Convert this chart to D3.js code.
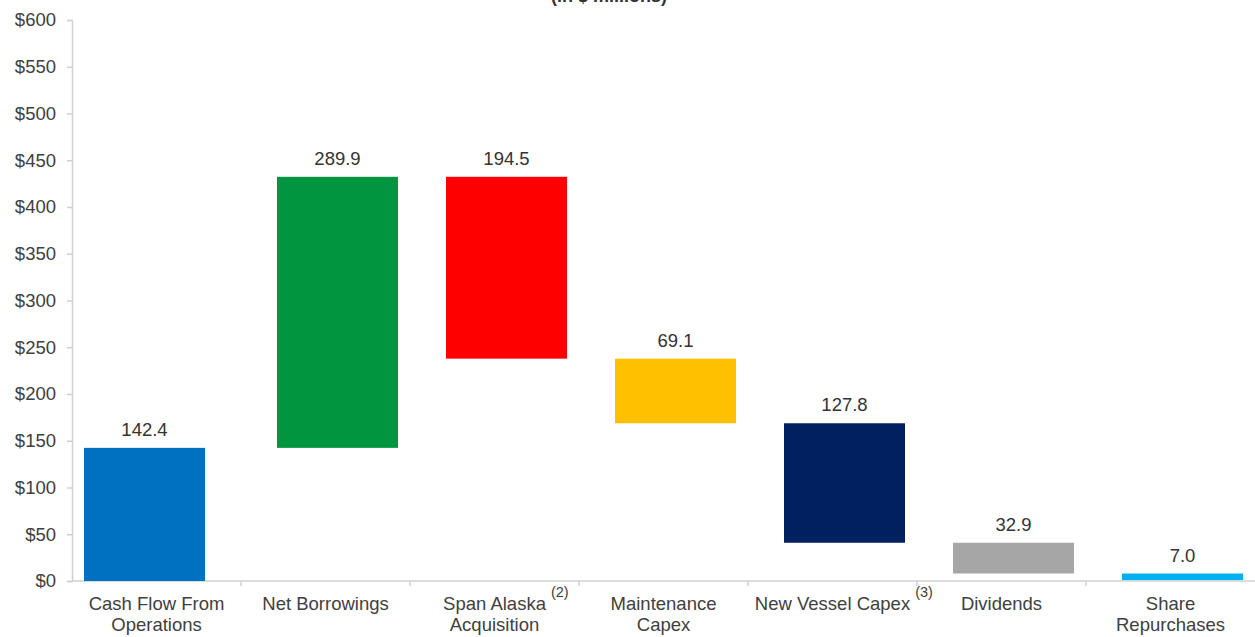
<!DOCTYPE html>
<meta charset="utf-8">
<style>
  body { margin: 0; background: #fff; }
  text { font-family: "Liberation Sans", Arial, sans-serif; }
</style>
<body>
<div id="chart"></div>
<script src="https://d3js.org/d3.v7.min.js"></script>
<script>

// categories (second line after "|"), superscript footnotes
var categories = ["Cash Flow From|Operations", "Net Borrowings", "Span Alaska|Acquisition",
                  "Maintenance|Capex", "New Vessel Capex", "Dividends", "Share|Repurchases"];
var footnotes = ["", "", "(2)", "", "(3)", "", ""];
// +inflow / -outflow, $ millions
var changes = [142.4, 289.9, -194.5, -69.1, -127.8, -32.9, -7.0];
var colors = ["#0070C0", "#00953F", "#FF0000", "#FFC000", "#002060", "#A6A6A6", "#00B0F0"];
var yTicks = [0, 50, 100, 150, 200, 250, 300, 350, 400, 450, 500, 550, 600];
var title = "(in $ millions)";

var width = 1255, height = 637;
var margin = {top: 20, right: 0, bottom: 56, left: 72};
var fs = 18.5;

var svg = d3.select("#chart").append("svg")
    .attr("width", width)
    .attr("height", height);

// running totals for waterfall
var total = 0;
var bars = changes.map(function(v, i) {
  var start = total;
  total += v;
  return {cat: categories[i], value: Math.abs(v), lo: Math.min(start, total), hi: Math.max(start, total), color: colors[i], i: i};
});

var x = d3.scaleBand()
    .domain(categories)
    .range([margin.left, width - margin.right]);

var y = d3.scaleLinear()
    .domain([0, 600])
    .range([height - margin.bottom, margin.top]);

// title sits mostly above the visible area, as in the original
svg.append("text")
    .attr("x", 609).attr("y", 2)
    .attr("text-anchor", "middle")
    .attr("font-size", 18).attr("font-weight", "bold")
    .attr("fill", "#333")
    .text(title);

// y axis
var yAxis = svg.append("g")
    .attr("transform", "translate(" + margin.left + ",0)")
    .call(d3.axisLeft(y).tickValues(yTicks).tickSize(5).tickPadding(11)
      .tickFormat(function(d) { return "$" + d; }));
yAxis.selectAll("path, line").attr("stroke", "#d0d0d0").attr("stroke-width", 1.5);
yAxis.selectAll("text").attr("font-size", fs).attr("fill", "#404040")
    .style("font-family", "'Liberation Sans', Arial, sans-serif");

// x axis: ticks on band boundaries
var xAxis = svg.append("g")
    .attr("transform", "translate(0," + y(0) + ")");
xAxis.append("line")
    .attr("x1", margin.left).attr("x2", width - margin.right)
    .attr("stroke", "#d0d0d0").attr("stroke-width", 1.5);
xAxis.selectAll(".tk")
  .data(categories.slice(1))
  .enter().append("line")
    .attr("x1", function(d) { return x(d); })
    .attr("x2", function(d) { return x(d); })
    .attr("y1", 0).attr("y2", 5)
    .attr("stroke", "#d0d0d0").attr("stroke-width", 1.5);

var labels = xAxis.selectAll(".lab")
  .data(categories)
  .enter().append("g")
    .attr("transform", function(d) { return "translate(" + (x(d) + x.bandwidth() / 2) + ",0)"; });
labels.each(function(d, i) {
  var g = d3.select(this);
  var lines = d.split("|");
  var firstW = 0;
  lines.forEach(function(s, j) {
    var t = g.append("text")
      .attr("x", 0).attr("y", 29 + j * 21)
      .attr("text-anchor", "middle")
      .attr("font-size", fs)
      .attr("fill", "#404040")
      .text(s);
    if (j === 0) firstW = t.node().getComputedTextLength();
  });
  // footnote mark hangs after the first line
  if (footnotes[i]) {
    g.append("text")
      .attr("x", firstW / 2 + 5).attr("y", 16)
      .attr("font-size", 14.5)
      .attr("fill", "#404040")
      .text(footnotes[i]);
  }
});

// bars
var barW = 121;
function barX(d) {
  var shift = d.i === 0 ? -12 : 12;
  return x(d.cat) + (x.bandwidth() - barW) / 2 + shift;
}

svg.selectAll(".bar")
  .data(bars)
  .enter().append("rect")
    .attr("x", barX)
    .attr("y", function(d) { return y(d.hi); })
    .attr("width", barW)
    .attr("height", function(d) { return Math.max(y(d.lo) - y(d.hi), 1); })
    .attr("fill", function(d) { return d.color; });

svg.selectAll(".val")
  .data(bars)
  .enter().append("text")
    .attr("x", function(d) { return barX(d) + barW / 2; })
    .attr("y", function(d) { return y(d.hi) - 12; })
    .attr("text-anchor", "middle")
    .attr("font-size", fs)
    .attr("fill", "#333")
    .text(function(d) { return d.value.toFixed(1); });

</script>
</body>
